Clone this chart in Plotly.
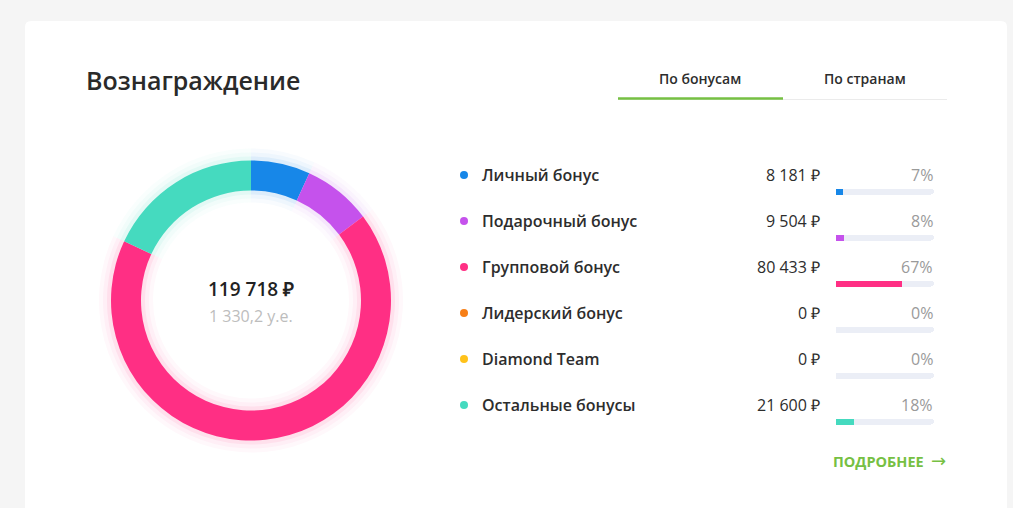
import plotly.graph_objects as go

# ---------------- data ----------------
categories = ["Личный бонус", "Подарочный бонус", "Групповой бонус",
              "Лидерский бонус", "Diamond Team", "Остальные бонусы"]
amounts = [8181, 9504, 80433, 0, 0, 21600]
percents = [7, 8, 67, 0, 0, 18]
colors = ["#1787e8", "#c552ec", "#ff2f84", "#f77f17", "#ffc21a", "#45dabf"]
title_text = "Вознаграждение"
tabs = ["По бонусам", "По странам"]
total_rub = "119 718 ₽"
total_ue = "1 330,2 у.е."
more_text = "ПОДРОБНЕЕ"
more_arrow = "→"

# ---------------- layout helpers ----------------
W, H = 1013, 508
FONT = "Open Sans"
DARK = "#2d2d2d"
GREEN = "#76c043"


def px(x):
    return x / W


def py(y):
    return 1 - y / H


def rgba(hexc, a):
    h = hexc.lstrip("#")
    r, g, b = int(h[0:2], 16), int(h[2:4], 16), int(h[4:6], 16)
    return f"rgba({r},{g},{b},{a})"


def fmt_rub(v):
    return f"{v:,}".replace(",", " ") + " ₽"


fig = go.Figure()

# ---------------- donut (with soft glow layers) ----------------
cx, cy, R, r_in = 251, 300.5, 140, 110
for extra, alpha in [(12, 0.03), (8, 0.045), (4, 0.08)]:
    Ro = R + extra
    Ri = r_in - extra
    fig.add_trace(go.Pie(
        values=amounts, labels=categories, sort=False, direction="clockwise",
        rotation=0, hole=Ri / Ro, textinfo="none", hoverinfo="skip",
        marker=dict(colors=[rgba(c, alpha) for c in colors], line=dict(width=0)),
        domain=dict(x=[px(cx - Ro), px(cx + Ro)], y=[py(cy + Ro), py(cy - Ro)]),
        showlegend=False,
    ))

fig.add_trace(go.Pie(
    values=amounts, labels=categories, sort=False, direction="clockwise",
    rotation=0, hole=r_in / R, textinfo="none",
    hovertemplate="%{label}: %{value} ₽<extra></extra>",
    marker=dict(colors=colors, line=dict(width=0)),
    domain=dict(x=[px(cx - R), px(cx + R)], y=[py(cy + R), py(cy - R)]),
    showlegend=False,
))

# ---------------- rows geometry ----------------
n = len(categories)
row_h = 46
text_row0 = 175      # centre of first text row (px)
bar_row0 = 191.5     # centre of first progress bar (px)
bar_x0, bar_x1 = 836, 934


def row_domain(first):
    top = first - row_h / 2
    bot = first + (n - 1) * row_h + row_h / 2
    return [py(bot), py(top)]


rows = list(range(n))

# progress bar tracks + fills
fig.add_trace(go.Bar(
    x=[100] * n, y=rows, orientation="h", width=6 / row_h,
    marker=dict(color="#ebeef6", cornerradius=3, line=dict(width=0)),
    xaxis="x", yaxis="y", hoverinfo="skip", showlegend=False,
))
fig.add_trace(go.Bar(
    x=percents, y=rows, orientation="h", width=6 / row_h,
    marker=dict(color=colors, cornerradius=3, line=dict(width=0)),
    xaxis="x", yaxis="y", hoverinfo="skip", showlegend=False,
))

# legend dots
fig.add_trace(go.Scatter(
    x=[px(464)] * n, y=rows, mode="markers",
    marker=dict(color=colors, size=8, line=dict(width=0)),
    xaxis="x2", yaxis="y2", hoverinfo="skip", showlegend=False,
))

annotations = []
for i in rows:
    annotations.append(dict(
        x=px(480), y=i, xref="paper", yref="y2", xanchor="left", yanchor="middle",
        text=categories[i], showarrow=False,
        font=dict(family=FONT, size=16, color=DARK, weight=600)))
    annotations.append(dict(
        x=px(822), y=i, xref="paper", yref="y2", xanchor="right", yanchor="middle",
        text=fmt_rub(amounts[i]), showarrow=False,
        font=dict(family=FONT, size=16, color=DARK)))
    annotations.append(dict(
        x=px(935), y=i, xref="paper", yref="y2", xanchor="right", yanchor="middle",
        text=f"{percents[i]}%", showarrow=False,
        font=dict(family=FONT, size=16, color="#9a9a9a")))

# title, tabs, centre text, link
annotations += [
    dict(x=px(84), y=py(80), xref="paper", yref="paper", xanchor="left", yanchor="middle",
         text=title_text, showarrow=False,
         font=dict(family=FONT, size=25, color="#2a2a2a", weight=600)),
    dict(x=px(700), y=py(79), xref="paper", yref="paper", xanchor="center", yanchor="middle",
         text=tabs[0], showarrow=False,
         font=dict(family=FONT, size=14, color=DARK, weight=600)),
    dict(x=px(865), y=py(79), xref="paper", yref="paper", xanchor="center", yanchor="middle",
         text=tabs[1], showarrow=False,
         font=dict(family=FONT, size=14, color=DARK, weight=600)),
    dict(x=px(cx), y=py(289), xref="paper", yref="paper", xanchor="center", yanchor="middle",
         text=total_rub, showarrow=False,
         font=dict(family=FONT, size=19, color="#222222", weight=600)),
    dict(x=px(cx), y=py(316), xref="paper", yref="paper", xanchor="center", yanchor="middle",
         text=total_ue, showarrow=False,
         font=dict(family=FONT, size=16, color="#bdbdbd")),
    dict(x=px(926), y=py(461), xref="paper", yref="paper", xanchor="right", yanchor="middle",
         text=more_text, showarrow=False,
         font=dict(family=FONT, size=14.5, color=GREEN, weight=700)),
    dict(x=px(948), y=py(460), xref="paper", yref="paper", xanchor="right", yanchor="middle",
         text=more_arrow, showarrow=False,
         font=dict(family="DejaVu Sans", size=18, color=GREEN)),
]

# card background + tab underline
cl, ct, cr, cb, rad = 25, 21, 1007, 520, 6
card_path = (f"M {px(cl)},{py(cb)} L {px(cl)},{py(ct + rad)} "
             f"Q {px(cl)},{py(ct)} {px(cl + rad)},{py(ct)} "
             f"L {px(cr - rad)},{py(ct)} Q {px(cr)},{py(ct)} {px(cr)},{py(ct + rad)} "
             f"L {px(cr)},{py(cb)} Z")
shapes = [
    dict(type="path", path=card_path, xref="paper", yref="paper",
         fillcolor="white", line=dict(width=0), layer="below"),
    dict(type="line", xref="paper", yref="paper", x0=px(618), x1=px(947),
         y0=py(99.5), y1=py(99.5), line=dict(color="#ebebeb", width=1), layer="below"),
    dict(type="line", xref="paper", yref="paper", x0=px(618), x1=px(783),
         y0=py(98.5), y1=py(98.5), line=dict(color=GREEN, width=2.5), layer="below"),
]

fig.update_layout(
    width=W, height=H,
    margin=dict(l=0, r=0, t=0, b=0),
    paper_bgcolor="#f5f5f5",
    plot_bgcolor="rgba(0,0,0,0)",
    barmode="overlay",
    bargap=0,
    xaxis=dict(domain=[px(bar_x0), px(bar_x1)], range=[0, 100], visible=False, fixedrange=True),
    yaxis=dict(domain=row_domain(bar_row0), range=[n - 0.5, -0.5], visible=False, fixedrange=True),
    xaxis2=dict(domain=[0, 1], range=[0, 1], visible=False, fixedrange=True, anchor="y2"),
    yaxis2=dict(domain=row_domain(text_row0), range=[n - 0.5, -0.5], visible=False,
                fixedrange=True, anchor="x2"),
    annotations=annotations,
    shapes=shapes,
    showlegend=False,
    font=dict(family=FONT),
)

fig.write_html(
    "out.html",
    config={"displayModeBar": False},
    post_script="document.body.style.margin='0';document.body.style.background='#f5f5f5';"
                "document.body.style.overflow='hidden';",
)
